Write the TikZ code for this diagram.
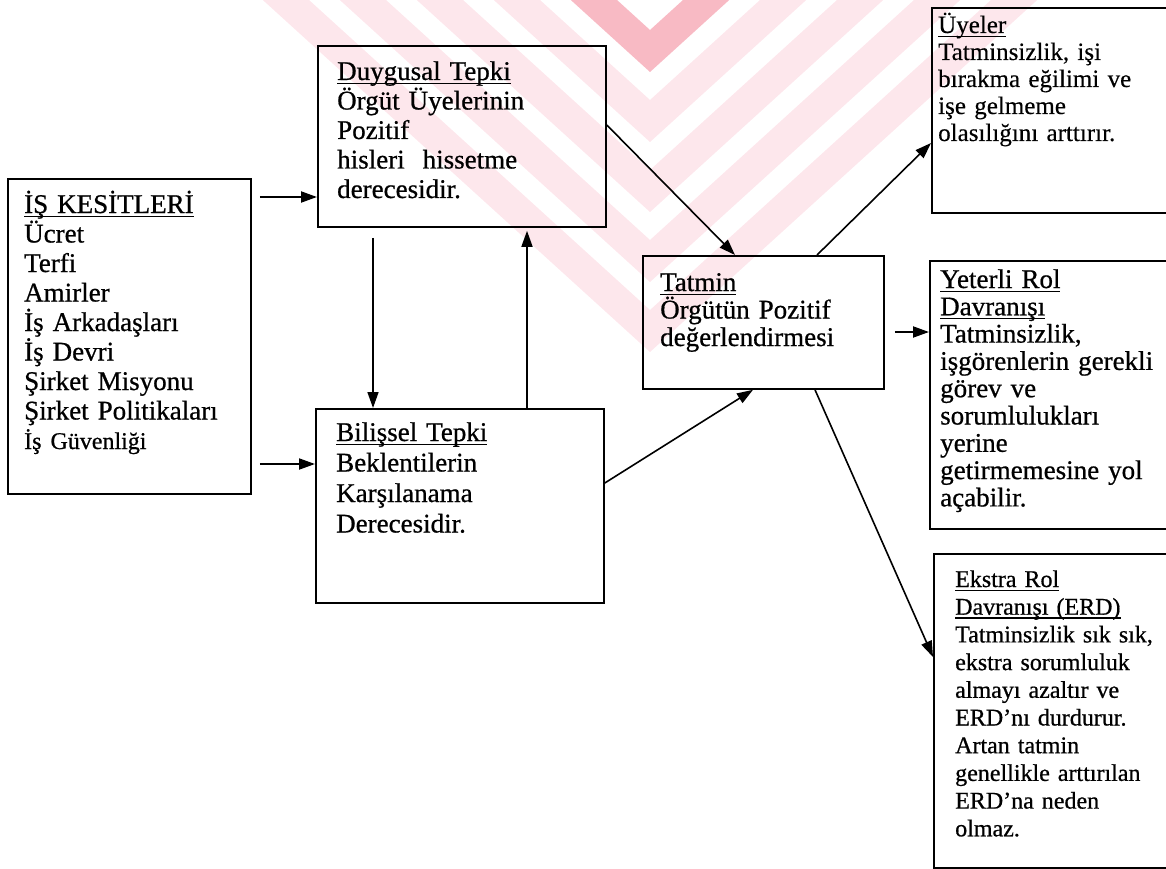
\documentclass[tikz,border=0pt]{standalone}
\usepackage{fontspec}
\setmainfont{Liberation Serif}
\newfontfamily\scanfont{Liberation Serif}[FakeBold=0.7]
\newfontfamily\lightscan{Liberation Serif}[FakeBold=0.3]
\usetikzlibrary{calc,arrows.meta}
\newcommand\uln[1]{\leavevmode\setbox0\hbox{#1}\rlap{\rule[-4pt]{\wd0}{1.3pt}}\box0}
\newcommand\boxfont[2]{\scanfont\fontsize{#1}{#2}\selectfont\lineskiplimit=-1000pt\relax}
\newcommand\lboxfont[2]{\lightscan\fontsize{#1}{#2}\selectfont\lineskiplimit=-1000pt\relax}
\definecolor{wmpink}{RGB}{253,231,236}
\definecolor{wmred}{RGB}{248,186,196}
\begin{document}
\begin{tikzpicture}[x=1pt,y=-1pt,
  box/.style={draw, line width=1.8pt, inner sep=0pt, anchor=north west},
  txt/.style={anchor=base west, inner sep=0pt, text width=330pt, align=left},
  arr/.style={line width=1.9pt, -{Triangle[length=16pt,width=11pt]}},
  ln/.style={line width=1.6pt, -{Triangle[length=16pt,width=11pt]}}]
\useasboundingbox (0,0) rectangle (1166,869);
% watermark (faint chevrons)
\begin{scope}
\clip (240,0) rectangle (1120,352);
\foreach \a/\c in {352/wmpink,282/wmpink,212/wmpink,142/wmpink,72/wmred} {
  \fill[\c] ({650-\a*1.1},0) -- (650,\a) -- ({650+\a*1.1},0) -- ({650+(\a-42)*1.1},0) -- (650,{\a-42}) -- ({650-(\a-42)*1.1},0) -- cycle;
}
\end{scope}
% boxes
\node[box, minimum width=243pt, minimum height=315pt] (kes) at (7,178) {};
\node[box, minimum width=288pt, minimum height=181pt] (duy) at (317,45) {};
\node[box, minimum width=288pt, minimum height=194pt] (bil) at (315,408) {};
\node[box, minimum width=241pt, minimum height=133pt] (tat) at (642,255) {};
\node[box, minimum width=244pt, minimum height=205pt] (uye) at (931,7) {};
\node[box, minimum width=246pt, minimum height=268pt] (yet) at (929,260) {};
\node[box, minimum width=242pt, minimum height=314pt] (eks) at (933,553) {};
% texts
\node[txt, font=\boxfont{27pt}{29.5pt}] (kes-t) at (24,213) {\uln{İŞ KESİTLERİ}\\Ücret\\Terfi\\Amirler\\İş Arkadaşları\\İş Devri\\Şirket Misyonu\\Şirket Politikaları\\{\fontsize{24pt}{29.5pt}\selectfont İş Güvenliği}};
\node[txt, font=\boxfont{27pt}{29.5pt}] (duy-t) at (337,80) {\uln{Duygusal Tepki}\\Örgüt Üyelerinin\\Pozitif\\hisleri\ \ hissetme\\derecesidir.};
\node[txt, font=\boxfont{27pt}{30.5pt}] (bil-t) at (336,441) {\uln{Bilişsel Tepki}\\Beklentilerin\\Karşılanama\\Derecesidir.};
\node[txt, font=\boxfont{27pt}{27.5pt}] (tat-t) at (660,291) {\uln{Tatmin}\\Örgütün Pozitif\\değerlendirmesi};
\node[txt, font=\lboxfont{25pt}{27pt}] (uye-t) at (938,33) {\uln{Üyeler}\\Tatminsizlik, işi\\bırakma eğilimi ve\\işe gelmeme\\olasılığını arttırır.};
\node[txt, font=\boxfont{27pt}{27.3pt}] (yet-t) at (940,288) {\uln{Yeterli Rol}\\\uln{Davranışı}\\Tatminsizlik,\\işgörenlerin gerekli\\görev ve\\sorumlulukları\\yerine\\getirmemesine yol\\açabilir.};
\node[txt, font=\boxfont{24pt}{27.7pt}] (eks-t) at (955,587) {\uln{Ekstra Rol}\\\uln{Davranışı (ERD)}\\Tatminsizlik sık sık,\\ekstra sorumluluk\\almayı azaltır ve\\ERD’nı durdurur.\\Artan tatmin\\genellikle arttırılan\\ERD’na neden\\olmaz.};
% connectors
\draw[arr] ($(kes.east |- 0,197)+(8,0)$) -- (duy.west |- 0,197);
\draw[arr] ($(kes.east |- 0,464)+(8,0)$) -- (bil.west |- 0,464);
\draw[ln] ($(duy.south -| 373,0)+(0,10)$) -- (bil.north -| 373,0);
\draw[ln] (bil.north -| 527,0) -- ($(duy.south -| 527,0)+(0,3)$);
\draw[ln] (duy.east |- 0,125) -- (tat.north -| 735,0);
\draw[ln] (bil.east |- 0,483) -- (tat.south -| 753,0);
\draw[ln] (tat.north -| 817,0) -- (uye.west |- 0,143);
\draw[arr] ($(tat.east |- 0,332)+(10,0)$) -- (yet.west |- 0,332);
\draw[ln] (tat.south -| 815,0) -- (eks.west |- 0,657);
\end{tikzpicture}
\end{document}
